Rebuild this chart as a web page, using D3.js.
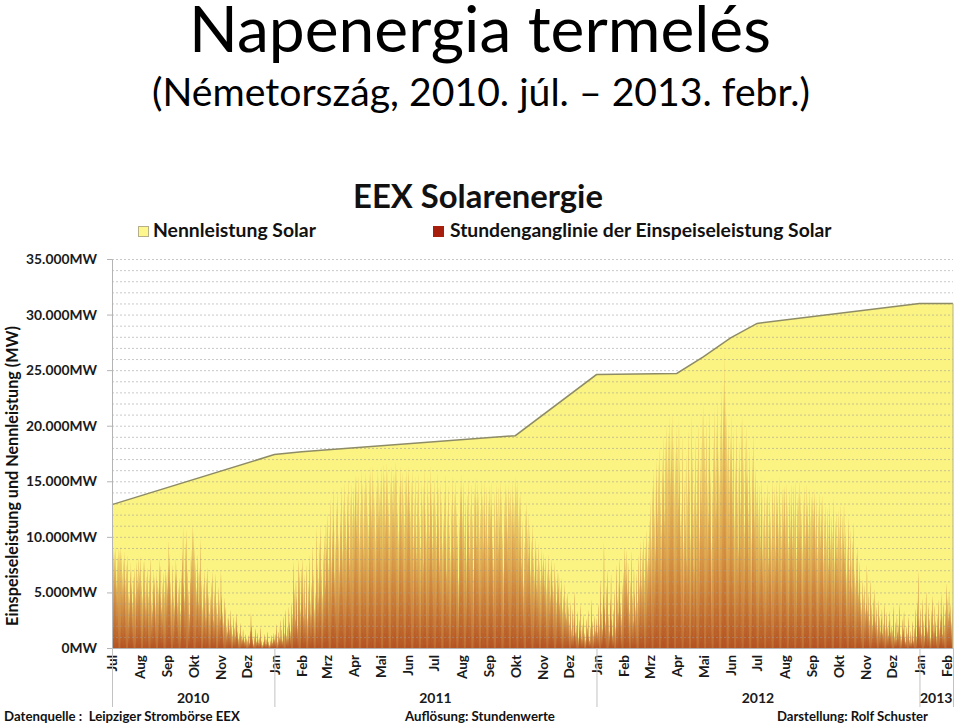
<!DOCTYPE html>
<html><head><meta charset="utf-8">
<script src="https://cdn.jsdelivr.net/npm/d3@7"></script>
<style>body{margin:0;background:#fff}svg{display:block}text{font-family:Lato,"Open Sans",sans-serif}</style>
</head><body>
<svg id="c" width="960" height="726"></svg>
<script>
// Daily peak feed-in (thousand MW), Jul 2010 .. 7 Feb 2013
const peaks2010 = [
 8.6,9.0,8.8,9.2,7.5,6.1,8.4,9.1,8.9,9.3, 8.7,7.0,5.8,8.2,8.8,6.4,7.7,8.5,5.2,4.6, 6.9,7.8,5.9,4.3,6.6,7.4,5.1,7.9,6.8,6.0, 8.3,
 7.2,8.4,6.1,4.8,7.9,8.0,5.3,3.9,6.6,7.4, 5.0,6.8,8.3,4.4,3.6,5.9,7.1,6.5,4.1,7.0, 6.2,5.5,8.1,7.6,4.9,3.8,6.0,6.9,5.2,7.3, 6.7,
 5.8,7.5,9.8,8.6,6.2,4.5,7.7,5.1,3.9,6.8, 8.2,7.0,4.2,5.6,6.4,3.5,7.1,8.8,10.9,6.0, 4.8,9.6,10.8,7.3,5.4,3.1,6.5,8.4,9.0,11.3,
 10.6,9.2,7.8,5.5,8.6,6.9,4.3,7.4,9.9,6.2, 3.8,5.9,7.1,4.6,2.9,6.4,7.4,5.0,3.4,4.8, 6.1,7.0,3.9,2.6,5.3,6.8,4.1,3.2,5.6,4.4, 2.8,
 7.1,4.9,3.3,2.4,4.6,3.8,2.1,1.5,3.0,2.7, 1.8,3.5,2.2,1.3,2.9,1.9,1.1,2.5,3.2,1.6, 0.9,1.4,2.3,1.2,0.8,1.7,1.0,0.6,1.3,0.9,
 0.7,1.2,0.5,1.6,3.2,2.1,0.9,0.4,1.1,1.8, 0.6,1.4,0.8,0.5,1.0,1.9,0.7,0.3,0.6,1.3, 0.9,0.4,0.8,1.5,0.6,0.3,0.7,1.2,0.5,0.9, 1.4
];
const peaks2011 = [
 0.8,1.3,2.2,0.6,1.5,1.0,2.6,0.9,1.8,0.7, 2.9,1.4,3.5,1.2,2.0,0.9,3.8,2.4,1.6,4.2, 3.1,7.9,5.4,2.7,6.3,4.8,2.0,8.1,6.9,3.6, 7.4,
 8.2,5.5,3.0,6.7,4.1,7.6,2.8,5.9,8.5,4.4, 3.2,6.0,9.4,7.1,3.7,5.2,10.9,8.0,4.6,6.5, 9.7,11.2,7.3,5.0,8.8,10.4,6.1,11.6,
 9.5,12.3,7.8,11.0,13.6,8.4,10.7,14.6,12.1,6.9, 9.8,13.2,14.3,10.5,7.6,12.8,11.4,14.8,9.0,13.5, 15.1,12.6,10.2,14.0,15.4,11.8,8.5,13.9,15.0,12.4, 14.7,
 13.1,15.6,16.0,11.9,14.4,15.8,10.6,13.3,16.2,15.1, 12.0,9.4,14.7,16.1,15.5,13.0,11.2,15.9,16.4,14.2, 12.7,16.6,15.3,13.8,10.9,14.9,16.3,12.5,15.7,14.0,
 15.2,16.5,13.4,16.8,15.9,12.1,14.6,16.9,16.2,13.7, 11.5,15.4,16.7,14.3,16.0,12.8,15.8,17.0,16.4,13.2, 10.8,14.9,16.6,15.5,12.4,16.1,14.2,11.9,15.7,16.3, 14.0,
 15.9,16.4,14.1,12.6,15.3,16.2,10.4,13.8,15.7,11.5, 8.9,14.5,16.0,12.2,9.6,15.1,13.4,7.8,14.8,16.3, 12.9,10.7,15.6,14.0,11.1,16.5,15.2,13.6,9.9,14.4,
 15.5,13.2,10.6,16.0,14.7,12.0,8.4,15.1,13.8,9.7, 11.9,14.4,15.8,10.3,7.2,12.7,14.9,11.3,8.8,13.5, 15.6,12.4,9.1,14.2,15.3,13.0,10.8,6.5,12.1,14.6, 15.9,
 14.8,12.5,15.2,10.9,13.7,8.6,14.1,15.4,11.6,9.3, 13.2,15.0,12.3,7.4,14.6,15.5,13.9,10.2,15.1,14.3, 11.0,12.8,15.3,14.0,9.8,13.4,15.2,12.1,14.7,10.5, 13.6,
 14.9,12.7,15.2,13.5,10.1,8.2,14.4,11.8,15.0,13.1, 9.6,14.8,12.3,15.3,14.1,10.7,7.5,13.6,15.1,12.0, 14.5,11.2,15.0,13.8,14.6,12.9,15.2,14.0,11.5,13.3,
 15.6,14.8,15.2,12.4,13.9,14.4,10.3,8.1,11.7,6.2, 9.8,12.6,13.4,11.0,8.7,12.2,10.5,7.3,9.9,11.4, 8.5,6.8,10.1,9.2,5.9,7.7,9.6,8.0,6.4,9.0, 7.5,
 8.7,7.9,6.3,8.4,5.6,7.2,8.6,6.8,4.9,7.5, 8.2,6.1,5.3,7.8,6.6,4.4,7.0,5.8,6.9,4.2, 5.5,6.4,3.7,4.8,5.9,3.3,4.6,2.8,5.1,3.9,
 2.4,4.3,1.8,3.6,1.2,2.9,5.2,1.5,2.1,3.4, 1.0,2.6,4.0,1.7,0.9,2.2,3.1,1.4,0.8,2.7, 1.9,3.5,1.1,0.7,2.0,4.4,2.5,1.3,3.0,1.6, 2.3
];
const peaks2012 = [
 2.8,1.5,4.1,2.2,6.3,3.4,1.8,5.0,9.6,3.9, 2.4,5.7,7.2,3.1,1.6,4.5,6.8,2.7,1.2,3.6, 5.4,2.0,7.6,4.8,3.3,6.1,8.3,4.2,2.9,5.8, 7.0,
 9.3,8.1,6.7,9.0,5.4,7.8,3.6,6.2,8.8,4.9, 2.5,7.4,5.3,3.8,6.9,4.4,8.5,6.0,9.7,7.1, 5.8,8.9,10.2,6.6,9.4,10.8,7.9,9.9,8.4,
 11.8,13.5,10.2,14.9,16.3,12.7,9.4,15.6,17.2,13.0, 16.8,18.4,14.1,11.5,17.7,19.3,15.8,12.6,18.9,20.4, 17.5,19.8,21.0,16.4,20.6,18.2,21.3,19.0,15.2,17.9, 20.1,
 18.6,14.3,20.8,16.9,11.7,13.2,19.4,9.8,15.5,12.1, 17.8,8.4,14.6,19.9,16.2,10.5,21.1,18.0,12.9,7.6, 15.1,19.2,13.4,17.3,20.5,11.0,16.7,18.8,14.0,21.4,
 22.1,19.5,17.4,20.9,15.3,12.6,18.7,21.6,16.0,9.7, 14.8,19.1,21.8,17.2,13.5,20.3,22.4,18.1,15.9,21.0, 23.5,19.7,22.8,24.6,26.9,23.1,21.5,18.4,20.2,16.6, 19.3,
 21.2,18.5,15.4,19.9,12.3,17.1,20.5,14.6,9.2,16.8, 18.9,13.7,20.8,21.1,17.4,11.5,19.0,15.9,20.3,16.2, 13.0,18.3,14.8,10.6,17.7,19.5,15.1,12.4,16.5,14.2,
 15.3,12.8,14.9,10.4,13.6,15.5,9.1,12.2,14.4,11.0, 13.9,15.1,8.3,11.7,14.2,12.5,10.1,15.4,13.3,14.8, 9.6,12.9,15.2,14.0,11.4,15.6,13.1,10.7,14.6,12.3, 15.0,
 14.7,12.0,15.1,13.4,9.8,14.5,11.6,15.0,13.2,10.3, 14.9,12.7,15.2,8.9,13.8,14.3,11.1,15.3,14.1,12.4, 9.5,13.6,14.8,10.8,12.9,15.0,13.3,11.4,14.6,12.2, 13.9,
 14.4,12.6,13.9,14.5,11.2,13.7,9.4,12.8,14.2,10.7, 13.5,11.8,14.0,8.6,12.3,13.1,10.2,12.9,7.8,11.5, 13.3,9.9,12.1,10.8,13.6,8.4,11.7,12.5,9.1,10.4,
 12.6,11.3,13.1,9.7,12.2,10.5,13.3,8.8,11.0,6.9, 9.4,12.0,7.6,10.8,8.3,5.7,9.9,11.5,7.2,6.1, 8.7,9.4,5.2,6.6,7.9,4.5,3.8,6.3,4.9,5.8, 3.6,
 4.2,7.6,3.5,5.1,2.7,6.3,4.0,2.2,4.6,3.1, 5.4,2.5,3.8,1.9,4.4,3.0,1.6,2.8,3.6,1.4, 2.3,4.1,1.8,3.3,2.0,1.2,2.6,3.4,1.5,2.1,
 1.7,3.9,1.1,2.4,0.8,3.0,1.5,2.2,4.1,1.3, 0.9,2.7,1.8,3.4,1.0,0.6,2.0,1.4,2.9,0.8, 1.6,0.5,1.2,2.5,0.7,1.9,3.6,1.1,4.3,7.0, 2.8
];
const peaks2013 = [
 2.1,3.7,1.4,4.5,2.6,1.2,3.3,5.2,2.0,1.6, 4.0,2.8,1.0,3.5,4.8,2.3,1.5,3.9,2.5,1.1, 3.0,4.4,1.8,2.7,5.0,3.2,1.3,4.2,2.2,3.6, 5.9,
 4.6,2.9,5.3,3.4,4.1,2.4,3.8
];

// Installed capacity (Nennleistung), MW
const capacityDates = ["2010-07-01","2011-01-01","2011-02-01","2011-10-01","2012-01-01","2012-04-01","2012-05-01","2012-06-01","2012-07-01","2013-01-01","2013-02-08"];
const capacityMW    = [12900,17400,17650,19100,24600,24700,26200,27900,29200,31000,31000];

const yTicks = [0,5000,10000,15000,20000,25000,30000,35000];
const monthLabels = ["Jan","Feb","Mrz","Apr","Mai","Jun","Jul","Aug","Sep","Okt","Nov","Dez"];
const yearLabels = ["2010","2011","2012","2013"];
const yearBounds = ["2010-07-01","2011-01-01","2012-01-01","2013-01-01","2013-02-08"];

const svg = d3.select("#c");
const parse = d3.utcParse("%Y-%m-%d");
const start = parse("2010-07-01"), end = parse("2013-02-08");
const x = d3.scaleUtc().domain([start, end]).range([112, 953]);
const y = d3.scaleLinear().domain([0, 35000]).range([648, 259]);

function fit(t, w){ const L = t.node().getComputedTextLength(); const fs = parseFloat(t.attr("font-size")); t.attr("font-size", fs * w / L); return t; }

// Titles
fit(svg.append("text").attr("x",480).attr("y",52).attr("text-anchor","middle").attr("font-size",56).attr("fill","#000").text("Napenergia termelés"), 582);
fit(svg.append("text").attr("x",481).attr("y",106).attr("text-anchor","middle").attr("font-size",40).attr("fill","#000").text("(Németország, 2010. júl. – 2013. febr.)"), 658);
fit(svg.append("text").attr("x",478).attr("y",208).attr("text-anchor","middle").attr("font-size",30).attr("font-weight","bold").attr("fill","#111").text("EEX Solarenergie"), 250);

// Legend
svg.append("rect").attr("x",138.5).attr("y",226.5).attr("width",10).attr("height",10).attr("fill","#fdf78e").attr("stroke","#b5b08a");
fit(svg.append("text").attr("x",153).attr("y",237).attr("font-size",17).attr("font-weight","bold").attr("fill","#111").text("Nennleistung Solar"), 163);
svg.append("rect").attr("x",433).attr("y",226).attr("width",11).attr("height",11).attr("fill","#a81e0c");
fit(svg.append("text").attr("x",450).attr("y",237).attr("font-size",17).attr("font-weight","bold").attr("fill","#111").text("Stundenganglinie der Einspeiseleistung Solar"), 382);

// Capacity area
const cap = capacityDates.map((d,i)=>({date:parse(d), v:capacityMW[i]}));
svg.append("path").datum(cap)
  .attr("d", d3.area().x(d=>x(d.date)).y0(y(0)).y1(d=>y(d.v)))
  .attr("fill","#fbf382");

// Gradient for feed-in spikes
const defs = svg.append("defs");
const g = defs.append("linearGradient").attr("id","feed").attr("gradientUnits","userSpaceOnUse")
  .attr("x1",0).attr("y1",y(0)).attr("x2",0).attr("y2",y(24000));
g.append("stop").attr("offset",0).attr("stop-color","#9e2206");
g.append("stop").attr("offset",0.35).attr("stop-color","#bb4e16");
g.append("stop").attr("offset",1).attr("stop-color","#cf7a2e");

// Hourly feed-in: one spike glyph per day
const peaks = [].concat(peaks2010, peaks2011, peaks2012, peaks2013);
const offs = [-1,-0.8,-0.6,-0.35,0,0.35,0.6,0.8,1], fr = [0,0.31,0.59,0.85,1,0.85,0.59,0.31,0];
const p = d3.path();
peaks.forEach((v,i)=>{
  const noon = +d3.utcHour.offset(d3.utcDay.offset(start,i),12);
  offs.forEach((o,k)=>{
    const xx = x(new Date(noon + o*0.37*864e5));
    const yy = y(v*1000*fr[k]);
    if(k===0) p.moveTo(xx,yy); else p.lineTo(xx,yy);
  });
  p.closePath();
});
svg.append("path").attr("d", p.toString()).attr("fill","url(#feed)");

// Grid lines (every 1000 MW)
svg.append("g").selectAll("line").data(d3.range(1000,35001,1000)).join("line")
  .attr("x1",112).attr("x2",953).attr("y1",d=>y(d)+0.5).attr("y2",d=>y(d)+0.5)
  .attr("stroke","#9c9c9c").attr("stroke-opacity",0.55).attr("stroke-dasharray","2,2");

// Capacity line + right edge
svg.append("path").datum(cap)
  .attr("d", d3.line().x(d=>x(d.date)).y(d=>y(d.v)))
  .attr("fill","none").attr("stroke","#8e8c66").attr("stroke-width",1.5);
svg.append("line").attr("x1",x(end)).attr("x2",x(end)).attr("y1",y(31000)).attr("y2",y(0))
  .attr("stroke","#c4bf8c").attr("stroke-width",1.2);

// Y axis
const ya = svg.append("g").attr("transform","translate(112,0)")
  .call(d3.axisLeft(y).tickValues(yTicks).tickSize(5).tickPadding(10)
    .tickFormat(d=>d3.format(",")(d).replace(/,/g,".")+"MW"));
ya.select(".domain").attr("stroke","#b4b4b4");
ya.selectAll(".tick line").attr("stroke","#b4b4b4");
ya.selectAll(".tick text").attr("font-family","Lato").attr("font-weight","bold").attr("font-size",13.5).attr("fill","#1a1a1a");
{ const t = ya.selectAll(".tick text").filter(d=>d===35000); const L = t.node().getComputedTextLength();
  ya.selectAll(".tick text").attr("font-size", 13.5*71/L); }

fit(svg.append("text").attr("transform","translate(18,476) rotate(-90)").attr("text-anchor","middle")
  .attr("font-size",16).attr("font-weight","bold").attr("fill","#111").text("Einspeiseleistung und Nennleistung (MW)"), 300);

// X axis (months)
const xa = svg.append("g").attr("transform","translate(0,648)")
  .call(d3.axisBottom(x).ticks(d3.utcMonth.every(1)).tickSize(0).tickFormat(d=>monthLabels[d.getUTCMonth()]));
xa.select(".domain").attr("stroke","#b4b4b4");
xa.selectAll(".tick text").attr("transform","rotate(-90)").attr("text-anchor","end")
  .attr("x",-7).attr("y",0).attr("dy","0.36em")
  .attr("font-family","Lato").attr("font-weight","bold").attr("font-size",13.5).attr("fill","#1a1a1a");

// Year separators and labels
const yb = yearBounds.map(parse);
svg.append("g").selectAll("line").data(yb).join("line")
  .attr("x1",d=>x(d)+0.5).attr("x2",d=>x(d)+0.5).attr("y1",648).attr("y2",707)
  .attr("stroke","#c2c2c2");
svg.append("g").selectAll("text").data(yearLabels).join("text")
  .attr("x",(d,i)=>(x(yb[i])+x(yb[i+1]))/2).attr("y",703).attr("text-anchor","middle")
  .attr("font-weight","bold").attr("font-size",14).attr("fill","#1a1a1a").text(d=>d);

// Footer
fit(svg.append("text").attr("x",4).attr("y",721).attr("font-size",13).attr("font-weight","bold").attr("fill","#111").attr("xml:space","preserve").text("Datenquelle :  Leipziger Strombörse EEX"), 236);
fit(svg.append("text").attr("x",405).attr("y",721).attr("font-size",13).attr("font-weight","bold").attr("fill","#111").text("Auflösung: Stundenwerte"), 150);
fit(svg.append("text").attr("x",777).attr("y",721).attr("font-size",13).attr("font-weight","bold").attr("fill","#111").text("Darstellung: Rolf Schuster"), 151);
</script>
</body></html>
